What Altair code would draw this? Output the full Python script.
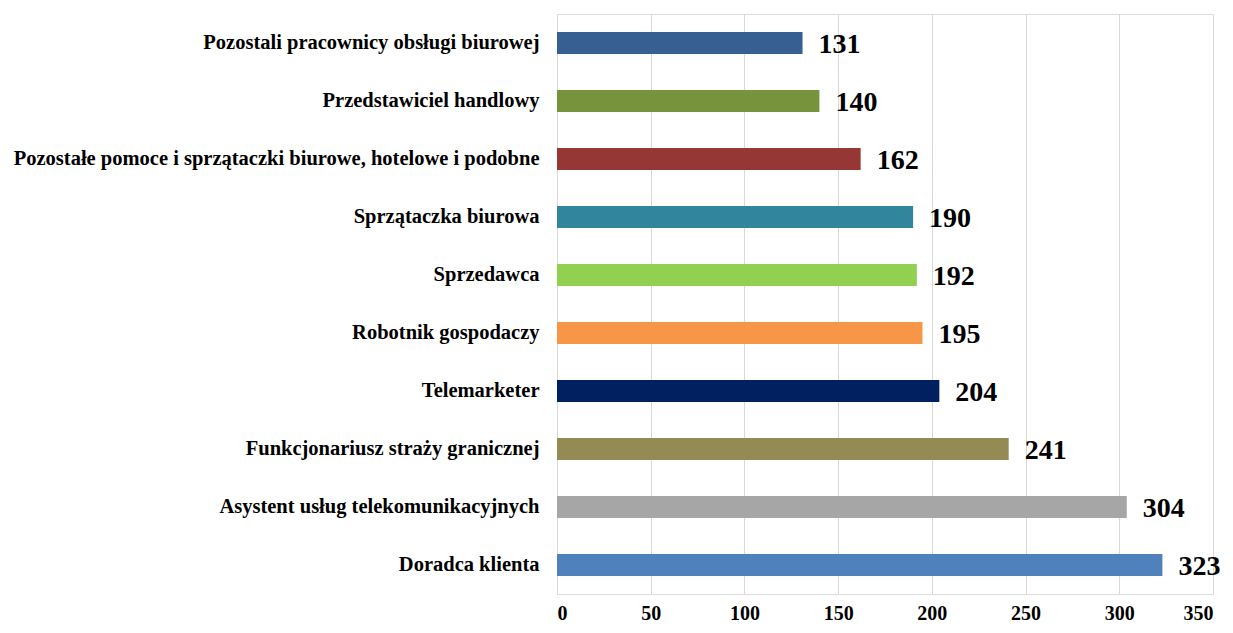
import altair as alt
import pandas as pd

categories = [
    "Pozostali pracownicy obsługi biurowej",
    "Przedstawiciel handlowy",
    "Pozostałe pomoce i sprzątaczki biurowe, hotelowe i podobne",
    "Sprzątaczka biurowa",
    "Sprzedawca",
    "Robotnik gospodaczy",
    "Telemarketer",
    "Funkcjonariusz straży granicznej",
    "Asystent usług telekomunikacyjnych",
    "Doradca klienta",
]
values = [131, 140, 162, 190, 192, 195, 204, 241, 304, 323]
colors = ["#376092", "#77933C", "#953735", "#31859C", "#92D050",
          "#F79646", "#002060", "#948A54", "#A6A6A6", "#4F81BD"]
x_ticks = [0, 50, 100, 150, 200, 250, 300, 350]

df = pd.DataFrame({"cat": categories, "val": values})
FONT = "Liberation Serif"

base = alt.Chart(df).encode(
    y=alt.Y("cat:N", sort=None, title=None,
            scale=alt.Scale(paddingInner=0.62, paddingOuter=0.31),
            axis=alt.Axis(labelFont=FONT, labelFontSize=20.5, labelFontWeight="bold",
                          labelColor="black", labelPadding=18, ticks=False,
                          domain=False, grid=False, labelLimit=700)),
)

bars = base.mark_bar().encode(
    x=alt.X("val:Q", title=None,
            scale=alt.Scale(domain=[0, 350], nice=False),
            axis=alt.Axis(values=x_ticks, labelFont=FONT, labelFontSize=20,
                          labelFontWeight="bold", labelColor="black",
                          ticks=False, domain=False, gridColor="#D9D9D9",
                          gridWidth=1, labelPadding=9)),
    color=alt.Color("cat:N", scale=alt.Scale(domain=categories, range=colors),
                    legend=None),
)

text = base.mark_text(align="left", baseline="middle", dx=16, dy=2,
                      font=FONT, fontSize=28, fontWeight="bold",
                      color="black").encode(
    x="val:Q", text="val:Q")

chart = (bars + text).properties(
    width=656, height=580,
    autosize=alt.AutoSizeParams(type="none"),
    padding={"left": 549, "top": 6, "right": 12, "bottom": 30},
).configure_view(stroke=None).configure(background="white")

chart.save("out.html", embed_options={"renderer": "svg", "actions": False})
